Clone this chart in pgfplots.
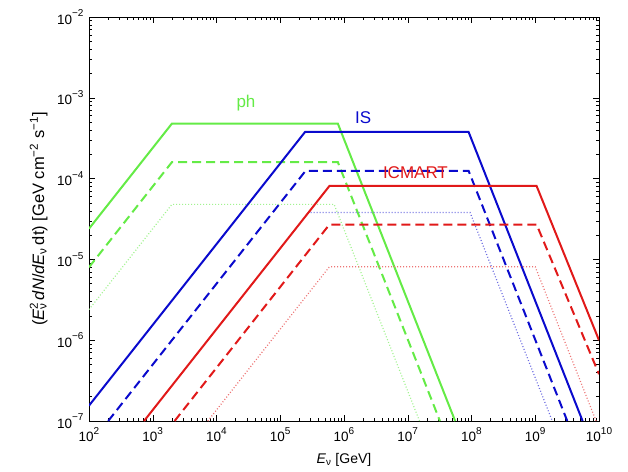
\documentclass[border=0pt]{standalone}
\usepackage{fontspec}
\setmainfont{Liberation Sans}
\usepackage{pgfplots}
\pgfplotsset{compat=1.18}

\definecolor{phg}{RGB}{100,235,70}
\definecolor{isb}{RGB}{10,10,205}
\definecolor{icr}{RGB}{225,25,25}

\newcommand{\sups}[1]{\textsuperscript{#1}}
\newcommand{\tsup}[1]{10\raisebox{0.55em}{\fontsize{10}{11}\selectfont #1}}
\newcommand{\Enu}{\textit{E}\rlap{\sups{2}}\textsubscript{ν}}

\begin{document}
\begin{tikzpicture}
\begin{axis}[
  name=main,
  scale only axis,
  width=510pt, height=404pt,
  xmode=log, ymode=log,
  xmin=1e2, xmax=1e10,
  ymin=1e-7, ymax=1e-2,
  xtick={1e2,1e3,1e4,1e5,1e6,1e7,1e8,1e9,1e10},
  xticklabels={\tsup{2},\tsup{3},\tsup{4},\tsup{5},\tsup{6},\tsup{7},\tsup{8},\tsup{9},\tsup{10}},
  ytick={1e-7,1e-6,1e-5,1e-4,1e-3,1e-2},
  yticklabels={\tsup{−7},\tsup{−6},\tsup{−5},\tsup{−4},\tsup{−3},\tsup{−2}},
  tick label style={font=\fontsize{13.5}{15}\selectfont},
  xticklabel style={yshift=-3pt},
  yticklabel style={xshift=-2pt},
  tick align=inside,
  major tick length=6pt,
  minor tick length=3pt,
  every tick/.style={black, line width=0.5pt},
  axis line style={line width=0.9pt},
  xlabel={\textit{E}\textsubscript{ν} [GeV]},
  xlabel style={font=\fontsize{14}{16}\selectfont, at={(axis description cs:0.5,-0.104)}, anchor=base},
  ylabel={(\Enu\,\textit{dN}/\textit{dE}\textsubscript{ν}\,dt) [GeV cm\sups{−2} s\sups{−1}]},
  ylabel style={font=\fontsize{16.5}{18}\selectfont, at={(axis description cs:-0.088,0.5)}, anchor=base},
]
% ph model: solid, dashed, dotted
\addplot[phg, line width=2pt] coordinates {(1e2,2.4e-5) (2e3,4.8e-4) (8e5,4.8e-4) (5.54e7,1e-7)};
\addplot[phg, line width=2pt, dash pattern=on 9pt off 5pt] coordinates {(1e2,8e-6) (2e3,1.6e-4) (8e5,1.6e-4) (3.2e7,1e-7)};
\addplot[phg!60, line width=1.2pt, dash pattern=on 1pt off 2pt] coordinates {(1e2,2.4e-6) (2e3,4.8e-5) (7e5,4.8e-5) (1.53e7,1e-7)};
% IS model
\addplot[isb, line width=2pt] coordinates {(1e2,1.55e-7) (2.45e5,3.78e-4) (9e7,3.78e-4) (5.53e9,1e-7)};
\addplot[isb, line width=2pt, dash pattern=on 9pt off 5pt] coordinates {(2e2,1e-7) (2.5e5,1.25e-4) (9e7,1.25e-4) (3.18e9,1e-7)};
\addplot[isb!60, line width=1.2pt, dash pattern=on 1pt off 2pt] coordinates {(3e5,3.8e-5) (9.5e7,3.8e-5) (1.85e9,1e-7)};
% ICMART model
\addplot[icr, line width=2pt] coordinates {(7.3e2,1e-7) (5.9e5,8.1e-5) (1.05e9,8.1e-5) (1e10,1e-6)};
\addplot[icr, line width=2pt, dash pattern=on 9pt off 5pt] coordinates {(2.2e3,1e-7) (5.9e5,2.7e-5) (1.05e9,2.7e-5) (1e10,3.8e-7)};
\addplot[icr!60, line width=1.2pt, dash pattern=on 1pt off 2pt] coordinates {(7.3e3,1e-7) (5.9e5,8.1e-6) (1e9,8.1e-6) (9e9,1e-7)};

\node[phg, anchor=base, font=\fontsize{17}{19}\selectfont] at (axis cs:2.9e4,7.5e-4) {ph};
\node[isb, anchor=base, font=\fontsize{17}{19}\selectfont] at (axis cs:2.0e6,4.83e-4) {IS};
\node[icr, anchor=base, font=\fontsize{17}{19}\selectfont] at (axis cs:1.32e7,1.01e-4) {ICMART};
\end{axis}
\path ([xshift=-89pt,yshift=-50pt]main.south west) rectangle ([xshift=29pt,yshift=17pt]main.north east);
\end{tikzpicture}
\end{document}
